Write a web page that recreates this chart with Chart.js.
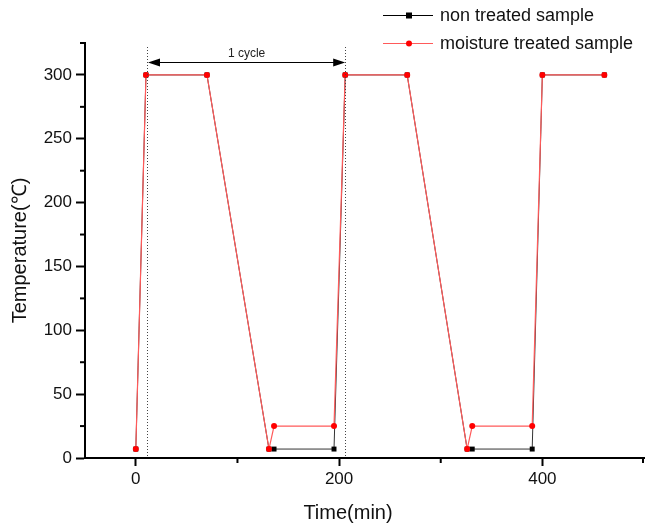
<!DOCTYPE html>
<html>
<head>
<meta charset="utf-8">
<script src="https://cdn.jsdelivr.net/npm/chart.js@4/dist/chart.umd.min.js"></script>
<style>
  body { margin: 0; background: #fff; }
  canvas { display: block; }
</style>
</head>
<body>
<canvas id="cycleChart" width="648" height="528"></canvas>
<script>
// time (min) and temperature (°C)
const timeNonTreated = [0, 10, 70, 131, 136, 195, 206, 267, 326, 331, 390, 400, 461];
const tempNonTreated = [7, 300, 300, 7, 7, 7, 300, 300, 7, 7, 7, 300, 300];
const timeMoisture = [0, 10, 70, 131, 136, 195, 206, 267, 326, 331, 390, 400, 461];
const tempMoisture = [7, 300, 300, 7, 25, 25, 300, 300, 7, 25, 25, 300, 300];

const seriesNames = ['non treated sample', 'moisture treated sample'];
const xTicks = [0, 200, 400];
const xMinorTicks = [100, 300, 500];
const yTicks = [0, 50, 100, 150, 200, 250, 300];
const yMinorTicks = [25, 75, 125, 175, 225, 275, 325];
const cycleMarks = [11, 206];

const FONT = '"Liberation Sans", Arial, sans-serif';

function toPoints(xs, ys) {
  return xs.map((x, i) => ({ x: x, y: ys[i] }));
}

const extras = {
  id: 'extras',
  afterDraw(chart) {
    const ctx = chart.ctx;
    const xs = chart.scales.x;
    const ys = chart.scales.y;
    const area = chart.chartArea;
    ctx.save();

    // minor ticks
    ctx.strokeStyle = '#000';
    ctx.lineWidth = 2;
    xMinorTicks.forEach(v => {
      const px = Math.min(xs.getPixelForValue(v), area.right - 1);
      ctx.beginPath();
      ctx.moveTo(px, area.bottom);
      ctx.lineTo(px, area.bottom + 5);
      ctx.stroke();
    });
    yMinorTicks.forEach(v => {
      const py = ys.getPixelForValue(v);
      ctx.beginPath();
      ctx.moveTo(area.left, py);
      ctx.lineTo(area.left - 5, py);
      ctx.stroke();
    });

    // cycle markers
    ctx.strokeStyle = '#444';
    ctx.lineWidth = 1;
    ctx.setLineDash([1, 2]);
    cycleMarks.forEach(v => {
      const px = Math.round(xs.getPixelForValue(v)) + 0.5;
      ctx.beginPath();
      ctx.moveTo(px, 47);
      ctx.lineTo(px, area.bottom);
      ctx.stroke();
    });
    ctx.setLineDash([]);

    const x1 = xs.getPixelForValue(cycleMarks[0]) + 1;
    const x2 = xs.getPixelForValue(cycleMarks[1]);
    const ay = 62.5;
    ctx.strokeStyle = '#000';
    ctx.beginPath();
    ctx.moveTo(x1 + 10, ay);
    ctx.lineTo(x2 - 10, ay);
    ctx.stroke();
    ctx.fillStyle = '#000';
    ctx.beginPath();
    ctx.moveTo(x1, ay);
    ctx.lineTo(x1 + 12, ay - 4);
    ctx.lineTo(x1 + 12, ay + 4);
    ctx.closePath();
    ctx.fill();
    ctx.beginPath();
    ctx.moveTo(x2, ay);
    ctx.lineTo(x2 - 12, ay - 4);
    ctx.lineTo(x2 - 12, ay + 4);
    ctx.closePath();
    ctx.fill();
    ctx.fillStyle = '#222';
    ctx.font = '12px ' + FONT;
    ctx.textAlign = 'center';
    ctx.textBaseline = 'middle';
    ctx.fillText('1 cycle', (x1 + x2) / 2, 54);

    // axis titles
    ctx.fillStyle = '#111';
    ctx.font = '20px ' + FONT;
    ctx.fillText('Time(min)', 348, 513);
    ctx.save();
    ctx.translate(20, (area.top + area.bottom) / 2);
    ctx.rotate(-Math.PI / 2);
    ctx.fillText('Temperature(\u2103)', 0, 0);
    ctx.restore();

    // legend
    const rows = [
      { y: 15, line: '#000', mark: '#000', square: true },
      { y: 43, line: '#ff5a5a', mark: '#ff0000', square: false }
    ];
    ctx.font = '18px ' + FONT;
    ctx.textAlign = 'left';
    rows.forEach((r, i) => {
      ctx.strokeStyle = r.line;
      ctx.lineWidth = 1;
      ctx.beginPath();
      ctx.moveTo(383, r.y + 0.5);
      ctx.lineTo(433, r.y + 0.5);
      ctx.stroke();
      ctx.fillStyle = r.mark;
      if (r.square) {
        ctx.fillRect(406, r.y - 2.5, 6, 6);
      } else {
        ctx.beginPath();
        ctx.arc(409, r.y + 0.5, 3, 0, Math.PI * 2);
        ctx.fill();
      }
      ctx.fillStyle = '#111';
      ctx.fillText(seriesNames[i], 440, r.y + 1);
    });
    ctx.restore();
  }
};

new Chart(document.getElementById('cycleChart'), {
  type: 'scatter',
  data: {
    datasets: [
      {
        label: seriesNames[0],
        data: toPoints(timeNonTreated, tempNonTreated),
        showLine: true,
        borderColor: '#333',
        borderWidth: 1,
        backgroundColor: '#000',
        pointStyle: 'rect',
        pointRadius: 3.5,
        pointBorderWidth: 0,
        order: 1
      },
      {
        label: seriesNames[1],
        data: toPoints(timeMoisture, tempMoisture),
        showLine: true,
        borderColor: '#ff5a5a',
        borderWidth: 1.2,
        backgroundColor: '#ff0000',
        pointStyle: 'circle',
        pointRadius: 3,
        pointBorderWidth: 0,
        order: 0
      }
    ]
  },
  options: {
    responsive: false,
    animation: false,
    layout: { padding: { top: 43, right: 0, left: 0, bottom: 0 } },
    plugins: { legend: { display: false }, tooltip: { enabled: false } },
    scales: {
      x: {
        type: 'linear',
        min: -50,
        max: 500,
        afterBuildTicks: s => { s.ticks = xTicks.map(v => ({ value: v })); },
        afterFit: s => { s.height = 70; },
        grid: { drawOnChartArea: false, tickLength: 8, tickColor: '#000', tickWidth: 2 },
        border: { color: '#000', width: 2 },
        ticks: { color: '#111', padding: 3, font: { size: 17, family: FONT }, maxRotation: 0 }
      },
      y: {
        type: 'linear',
        min: 0,
        max: 325,
        afterBuildTicks: s => { s.ticks = yTicks.map(v => ({ value: v })); },
        afterFit: s => { s.width = 85; },
        grid: { drawOnChartArea: false, tickLength: 9, tickColor: '#000', tickWidth: 2 },
        border: { color: '#000', width: 2 },
        ticks: { color: '#111', padding: 4, font: { size: 17, family: FONT } }
      }
    }
  },
  plugins: [extras]
});
</script>
</body>
</html>
